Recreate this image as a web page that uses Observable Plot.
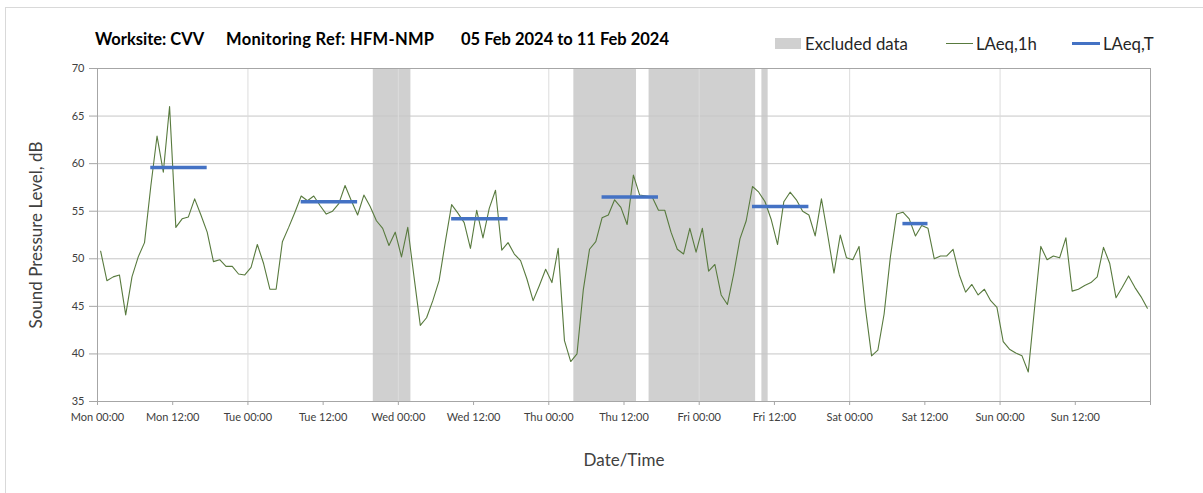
<!DOCTYPE html>
<html>
<head>
<meta charset="utf-8">
<script src="https://cdn.jsdelivr.net/npm/d3@7"></script>
<script src="https://cdn.jsdelivr.net/npm/@observablehq/plot@0.6"></script>
<style>
  html, body { margin: 0; padding: 0; background: #fff; overflow: hidden; }
  #wrap { position: relative; width: 1203px; height: 493px; font-family: Lato, "Open Sans", sans-serif; }
  #frame { position: absolute; left: 5px; top: 7px; width: 1300px; height: 600px; border-left: 1px solid #d9d9d9; border-top: 1px solid #d9d9d9; }
  #chart { position: absolute; left: 0; top: 0; }
  .title { position: absolute; top: 29px; font-weight: 700; font-size: 16.5px; color: #000; white-space: nowrap; }
  .leg { position: absolute; top: 33px; font-size: 16.8px; color: #262626; white-space: nowrap; }
  .sw { position: absolute; }
</style>
</head>
<body>
<div id="wrap">
  <div id="frame"></div>
  <div id="chart"></div>
  <div class="title" style="left:95px">Worksite: CVV</div>
  <div class="title" style="left:226px;letter-spacing:0.3px">Monitoring Ref: HFM-NMP</div>
  <div class="title" style="left:461px">05 Feb 2024 to 11 Feb 2024</div>
  <div class="sw" style="left:775px;top:38px;width:26px;height:11px;background:#d0d0d0"></div>
  <div class="leg" style="left:805px">Excluded data</div>
  <div class="sw" style="left:946px;top:43px;width:27px;height:1px;background:#587a3e"></div>
  <div class="leg" style="left:976px">LAeq,1h</div>
  <div class="sw" style="left:1072px;top:42px;width:28px;height:3px;background:#4472c4"></div>
  <div class="leg" style="left:1103px">LAeq,T</div>
</div>
<script>
// ---- Data ----
const startDate = Date.UTC(2024, 1, 5); // Mon 05 Feb 2024 00:00
const HOUR = 3600e3;

// Hourly LAeq,1h values (dB), Mon 00:00 .. Sun 23:00
const laeq1h = [
  50.8, 47.7, 48.1, 48.3, 44.1, 48.1, 50.2, 51.7, 57.6, 62.9, 59.1, 66.0,
  53.3, 54.2, 54.4, 56.3, 54.6, 52.8, 49.7, 49.9, 49.2, 49.2, 48.4, 48.3,
  49.1, 51.5, 49.5, 46.8, 46.8, 51.8, 53.3, 54.9, 56.6, 56.1, 56.6, 55.6,
  54.7, 55.0, 55.8, 57.7, 56.1, 54.6, 56.7, 55.5, 54.0, 53.2, 51.4, 52.8,
  50.2, 53.3, 48.1, 43.0, 43.8, 45.6, 47.7, 51.8, 55.7, 54.8, 53.8, 51.1,
  55.1, 52.2, 55.3, 57.2, 50.9, 51.7, 50.5, 49.8, 47.9, 45.6, 47.2, 48.9,
  47.5, 51.1, 41.4, 39.2, 40.0, 46.7, 51.0, 51.8, 54.3, 54.6, 56.2, 55.4,
  53.6, 58.8, 56.7, 56.6, 56.5, 55.1, 55.1, 52.8, 51.0, 50.5, 53.2, 50.7,
  53.2, 48.7, 49.4, 46.2, 45.2, 48.4, 52.1, 54.0, 57.6, 57.0, 56.0, 54.1,
  51.5, 56.0, 57.0, 56.2, 55.0, 54.6, 52.4, 56.3, 52.5, 48.5, 52.5, 50.1,
  49.9, 51.3, 44.9, 39.8, 40.4, 44.2, 50.2, 54.7, 54.9, 54.2, 52.4, 53.5,
  53.2, 50.0, 50.3, 50.3, 51.0, 48.3, 46.5, 47.3, 46.2, 46.8, 45.6, 44.9,
  41.3, 40.5, 40.1, 39.8, 38.1, 44.8, 51.3, 49.9, 50.3, 50.1, 52.2, 46.6,
  46.8, 47.2, 47.5, 48.1, 51.2, 49.5, 45.9, 47.0, 48.2, 47.0, 46.0, 44.8
];

// LAeq,T daytime periods (hour index of first and last hourly value)
const laeqTFirst = [8, 32, 56, 80, 104, 128];
const laeqTLast  = [17, 41, 65, 89, 113, 132];
const laeqTValue = [59.6, 56.0, 54.2, 56.5, 55.5, 53.7];

// Excluded data periods (hours from Mon 00:00)
const exclStart = [44, 76, 88, 106];
const exclEnd   = [50, 86, 105, 107];

const yTicks = [35, 40, 45, 50, 55, 60, 65, 70];

// ---- Build tables ----
const hourTime = h => new Date(startDate + h * HOUR);
const series = laeq1h.map((v, i) => ({t: hourTime(i + 0.5), v}));
const periods = laeqTValue.map((v, i) => ({t1: hourTime(laeqTFirst[i] + 0.5), t2: hourTime(laeqTLast[i] + 0.5), v}));
const excluded = exclStart.map((s, i) => ({t1: hourTime(s), t2: hourTime(exclEnd[i])}));
const domainX = [new Date(startDate), new Date(startDate + 7 * 24 * HOUR)];
const dayTicks = d3.utcDay.range(domainX[0], domainX[1]).slice(1);
const halfDayTicks = d3.utcHour.every(12).range(domainX[0], domainX[1]);
const fmt = d3.utcFormat("%a %H:%M");

const chart = Plot.plot({
  width: 1203,
  height: 493,
  marginLeft: 97,
  marginRight: 53,
  marginTop: 68,
  marginBottom: 92,
  style: {fontFamily: "Lato, 'Open Sans', sans-serif", fontSize: "11px", color: "#404040", background: "transparent"},
  x: {type: "utc", domain: domainX},
  y: {domain: [35, 70]},
  marks: [
    Plot.rect(excluded, {x1: "t1", x2: "t2", fill: "#d0d0d0"}),
    Plot.gridY(yTicks, {stroke: "#c6c6c6", strokeOpacity: 1, strokeWidth: 1}),
    Plot.gridX(dayTicks, {stroke: "#dcdcdc", strokeOpacity: 1, strokeWidth: 1}),
    Plot.frame({stroke: "#a6a6a6"}),
    Plot.axisY(yTicks, {tickSize: 8, tickPadding: 5, stroke: "#a6a6a6", fill: "#404040", label: null, fontSize: 11}),
    Plot.axisY({ticks: [], label: "Sound Pressure Level, dB", labelAnchor: "center", labelArrow: "none",
      labelOffset: 68, fontSize: 17, fill: "#404040", tickSize: 0}),
    Plot.axisX(halfDayTicks.concat([domainX[1]]), {tickSize: 4, tickPadding: 8, stroke: "#a6a6a6", fill: "#404040",
      tickFormat: d => +d === +domainX[1] ? "" : fmt(d), label: null}),
    Plot.axisX({ticks: [], label: "Date/Time", labelAnchor: "center", labelArrow: "none", labelOffset: 64,
      fontSize: 17, fill: "#404040", tickSize: 0}),
    Plot.line(series, {x: "t", y: "v", stroke: "#587a3e", strokeWidth: 1.1}),
    Plot.ruleY(periods, {x1: "t1", x2: "t2", y: "v", stroke: "#4472c4", strokeWidth: 3.5})
  ]
});
document.getElementById("chart").appendChild(chart);
</script>
</body>
</html>
